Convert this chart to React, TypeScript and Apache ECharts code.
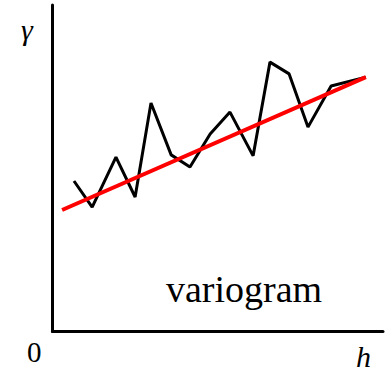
import React, { useEffect, useRef } from "react";
import * as echarts from "echarts";

// Empirical semivariogram: lag distance h vs. semivariance γ
const lagH = [0.65, 1.2, 1.92, 2.5, 2.98, 3.59, 4.16, 4.77, 5.37, 6.07, 6.58, 7.16, 7.73, 8.43, 9.48];
const gammaVals = [4.61, 3.81, 5.34, 4.12, 7.0, 5.41, 5.04, 6.05, 6.72, 5.38, 8.25, 7.89, 6.26, 7.52, 7.79];

// Fitted linear model endpoints
const fitH = [0.29, 9.48];
const fitGamma = [3.72, 7.79];

const axisMax = 10;
const serif = '"Liberation Serif", "Times New Roman", Times, serif';

export default function App() {
  const ref = useRef<HTMLDivElement>(null);

  useEffect(() => {
    if (!ref.current) return;
    const chart = echarts.init(ref.current, undefined, { renderer: "svg" });
    const textStyle = (text: string, size: number, italic: boolean) => ({
      text,
      fontFamily: serif,
      fontSize: size,
      fontStyle: italic ? "italic" : "normal",
      fill: "#000",
    });
    chart.setOption({
      animation: false,
      backgroundColor: "#fff",
      textStyle: { fontFamily: serif },
      grid: { left: 52.5, top: 5, right: 2, bottom: 42.5 },
      xAxis: {
        type: "value",
        min: 0,
        max: axisMax,
        axisLine: { show: true, lineStyle: { color: "#000", width: 3 } },
        axisTick: { show: false },
        axisLabel: { show: false },
        splitLine: { show: false },
      },
      yAxis: {
        type: "value",
        min: 0,
        max: axisMax,
        axisLine: { show: true, lineStyle: { color: "#000", width: 3 } },
        axisTick: { show: false },
        axisLabel: { show: false },
        splitLine: { show: false },
      },
      series: [
        {
          type: "line",
          data: lagH.map((h, i) => [h, gammaVals[i]]),
          showSymbol: false,
          lineStyle: { color: "#000", width: 3 },
          z: 2,
        },
        {
          type: "line",
          data: fitH.map((h, i) => [h, fitGamma[i]]),
          showSymbol: false,
          lineStyle: { color: "#ff0000", width: 4 },
          z: 3,
        },
      ],
      graphic: [
        { type: "text", left: 21, top: 14, style: textStyle("γ", 30, true) },
        { type: "text", left: 27, top: 337, style: textStyle("0", 29, false) },
        { type: "text", left: 356, top: 341, style: textStyle("h", 30, true) },
        { type: "text", left: 166, top: 270, style: textStyle("variogram", 38, false) },
      ],
    });
    return () => chart.dispose();
  }, []);

  return (
    <div
      ref={ref}
      style={{ position: "fixed", left: 0, top: 0, width: 385, height: 374 }}
    />
  );
}
